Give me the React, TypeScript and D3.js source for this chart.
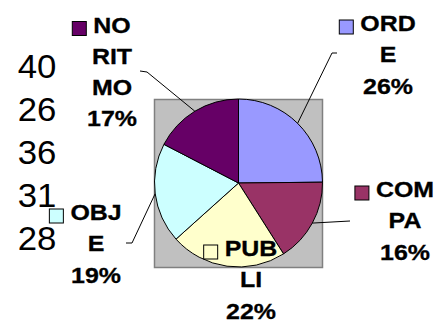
import React from "react";
import * as d3 from "d3";

const categories = ["ORDE", "COMPA", "PUBLI", "OBJE", "NORITMO"];
const values = [40, 26, 36, 31, 28];
const percentLabels = ["26%", "16%", "22%", "19%", "17%"];
const labelLines = [["ORD", "E"], ["COM", "PA"], ["PUB", "LI"], ["OBJ", "E"], ["NO", "RIT", "MO"]];
const colors = ["#9999FF", "#993366", "#FFFFCC", "#CCFFFF", "#660066"];

// layout (positions only)
const labelLayout = [
  { cx: 388, y0: 31, leader: [[332, 53], [337, 53]] },
  { cx: 405, y0: 197, leader: [[350, 221]] },
  { cx: 251, y0: 256, leader: null },
  { cx: 96, y0: 220, leader: [[132, 243], [126, 243]] },
  { cx: 112, y0: 32.5, leader: [[147, 72], [140, 71]] },
];

const charW: Record<string, number> = {
  O: 0.778, R: 0.722, D: 0.722, C: 0.722, M: 0.833, P: 0.667, U: 0.722, B: 0.722, J: 0.556, N: 0.722,
};

export default function App() {
  const W = 447, H = 320;
  const cx = 238.5, cy = 183, r = 84;
  const pie = d3.pie<number>().sort(null).value((d) => d)(values);
  const arc = d3.arc<d3.PieArcDatum<number>>().innerRadius(0).outerRadius(r);
  const edge = d3.arc<d3.PieArcDatum<number>>().innerRadius(r).outerRadius(r);
  const lineH = 31.3;
  const fs = 21.5;
  const sx = 1.16;
  const fontFam = "'Liberation Sans', Arial, sans-serif";

  return (
    <svg width={W} height={H} style={{ position: "absolute", left: 0, top: 0 }}>
      <rect x={0} y={0} width={W} height={H} fill="#fff" />
      <rect x={154.5} y={99.5} width={168} height={168} fill="#C0C0C0" stroke="#808080" strokeWidth={1.5} />
      <g transform={`translate(${cx},${cy})`}>
        {pie.map((p, i) => (
          <path key={i} d={arc(p) || ""} fill={colors[i]} stroke="#000" strokeWidth={1} />
        ))}
      </g>
      {pie.map((p, i) => {
        const L = labelLayout[i];
        if (!L.leader) return null;
        const [ex, ey] = edge.centroid(p);
        const pts = [[cx + ex, cy + ey], ...L.leader];
        return (
          <path key={"l" + i} d={d3.line()(pts as [number, number][]) || ""} fill="none" stroke="#000" strokeWidth={1} />
        );
      })}
      {values.map((v, i) => (
        <text
          key={"v" + i}
          transform={`translate(37,${78.3 + i * 43}) scale(1.07,1)`}
          textAnchor="middle"
          fontFamily={fontFam}
          fontSize={32.5}
          fill="#000"
        >
          {v}
        </text>
      ))}
      {categories.map((c, i) => {
        const L = labelLayout[i];
        const lines = [...labelLines[i], percentLabels[i]];
        const firstW = lines[0].split("").reduce((s, ch) => s + (charW[ch] || 0.7), 0) * fs * sx;
        return (
          <g key={"t" + i}>
            {lines.map((s, j) => (
              <text
                key={j}
                transform={`translate(${L.cx},${L.y0 + j * lineH}) scale(${sx},1)`}
                textAnchor="middle"
                fontFamily={fontFam}
                fontWeight="bold"
                fontSize={fs}
                stroke="#000"
                strokeWidth={0.3}
                fill="#000"
              >
                {s}
              </text>
            ))}
            <rect x={L.cx - firstW / 2 - 7 - 14} y={L.y0 - 11} width={14} height={14} fill={colors[i]} stroke="#000" strokeWidth={1} />
          </g>
        );
      })}
    </svg>
  );
}
